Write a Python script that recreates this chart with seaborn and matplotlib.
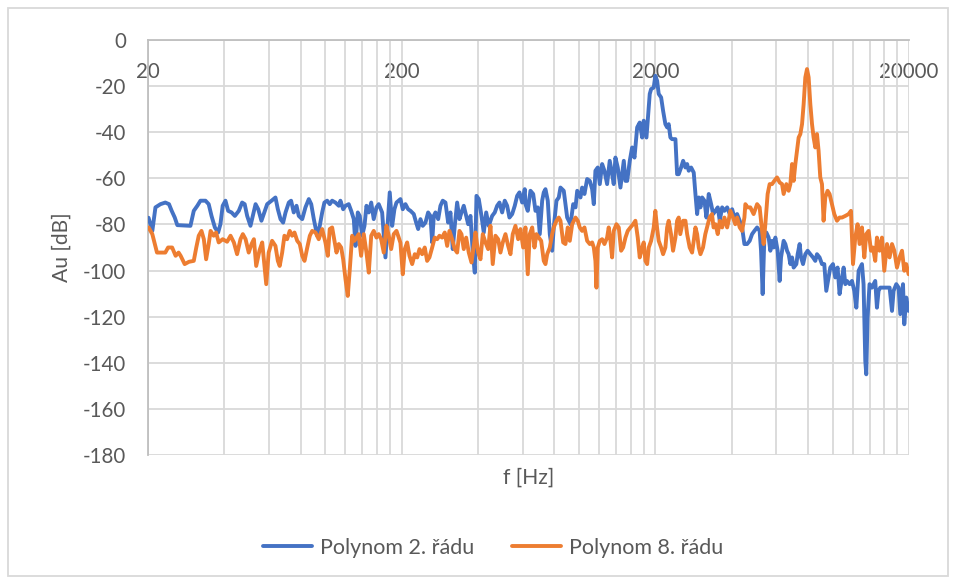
import matplotlib
matplotlib.use("Agg")
import matplotlib.pyplot as plt
from matplotlib.ticker import FixedLocator, NullFormatter
from matplotlib.patches import Rectangle
import seaborn as sns
import pandas as pd

# Frequency response, 2nd-order polynomial model
blue_freq = [
    20.1, 20.8, 21.4, 22.4, 23.4, 24.2, 24.8, 25.5, 26.1, 29.4, 30.3, 31.3, 32.2, 33.7,
    34.7, 35.6, 36.7, 37.8, 38.6, 39.4, 40.4, 41.4, 42.7, 44.0, 45.6, 47.0, 48.1, 49.2,
    50.7, 51.8, 53.1, 54.4, 56.0, 57.2, 59.0, 61.4, 63.6, 65.0, 66.6, 68.2, 69.7, 71.8,
    73.3, 75.1, 77.0, 78.6, 81.1, 83.5, 86.1, 88.0, 90.1, 92.9, 95.1, 97.2, 99.2, 101.7,
    104.1, 106.4, 109.6, 113.0, 114.7, 117.6, 120.1, 123.7, 126.5, 129.5, 131.5, 134.3,
    136.7, 139.7, 142.7, 145.3, 148.4, 151.7, 155.2, 159.1, 162.4, 167.5, 172.6, 176.3,
    179.5, 183.5, 187.3, 190.8, 197.8,
    202.0, 207.0, 212.1, 216.7, 223.2, 228.1, 232.3, 237.2, 242.2, 248.2, 254.3, 259.7,
    263.8, 267.7, 271.8, 278.6, 284.4, 290.4, 297.6, 305.0, 311.4, 318.0, 323.8, 330.9,
    338.0, 344.2, 351.4, 359.2, 365.8, 373.5, 381.4, 388.4, 394.4, 402.7, 412.7, 421.4,
    430.7, 440.9, 454.7, 465.6, 475.8, 485.9, 497.9, 509.8, 521.0, 532.0, 545.3, 558.3,
    570.6, 582.6, 597.1, 611.3,
    615.2, 628.2, 643.9, 659.9, 673.8, 688.0, 700.6, 716.0, 726.5, 737.8, 753.4, 767.2,
    784.0, 795.5, 815.3, 832.4, 845.4, 871.1, 898.4, 926.0, 949.0, 969.1, 984.1, 1014,
    1029, 1051, 1077, 1103, 1127, 1144, 1161, 1186, 1208, 1234, 1260, 1291, 1322, 1351,
    1371, 1392, 1422, 1457, 1480, 1502, 1525, 1549, 1586, 1620, 1655, 1696, 1736, 1775,
    1800, 1845, 1867, 1901, 1925, 1971, 2000, 2033, 2062, 2108, 2146, 2191, 2226, 2258,
    2293, 2329, 2400, 2437, 2473, 2527, 2574, 2628, 2669, 2708, 2768, 2834, 2878, 2923,
    2966, 3012, 3059, 3123, 3181, 3248, 3319, 3380, 3452, 3524, 3589, 3668, 3745, 3838,
    3929, 4016, 4100, 4202, 4302, 4396, 4489, 4600, 4710, 4813, 4915, 5037,
    5155, 5221, 5298, 5380, 5479, 5594, 5681, 5770, 5854, 5945, 6070, 6181, 6260, 6410,
    6510, 6611, 6708, 6812, 6918, 7019, 7193, 7279, 7412, 7507, 7644, 7804, 7969, 8166,
    8368, 8543, 8675, 8882, 9078, 9269, 9439, 9638, 9788, 10030, 10240, 10460, 10650,
    10890, 11050, 11220, 11390, 11670, 11920, 12170, 12400, 12660, 12850, 13050, 13240,
    13450, 13570, 13730, 13980, 14290, 14500, 14720, 14950, 15170, 15410, 15880, 16380,
    16770, 17140, 17390, 17820, 18200, 18480, 18940, 19160, 19510, 19930,
]
blue_db = [
    -77.1, -82.8, -72.6, -71.2, -70.5, -71.2, -74.1, -77.0, -80.3, -80.6, -74.1, -71.9, -69.7, -69.7,
    -71.2, -76.3, -81.3, -83.5, -79.9, -71.9, -69.7, -74.1, -74.8, -76.3, -74.1, -70.5, -71.2, -76.3,
    -80.6, -76.3, -71.2, -73.4, -78.4, -75.5, -71.2, -69.7, -68.3, -73.4, -77.7, -79.2, -74.8, -70.5,
    -69.7, -74.8, -71.9, -76.3, -77.7, -72.6, -69.0, -71.2, -77.7, -84.9, -80.6, -74.8, -70.5, -69.7,
    -71.2, -69.7, -70.5, -71.9, -69.7, -73.4, -71.9, -71.2, -74.1, -77.7, -89.3, -74.8,
    -76.3, -84.9, -80.6, -71.9, -74.8, -70.5, -77.7, -72.6, -71.2, -74.8, -94.3, -79.2,
    -66.1, -80.6, -73.4, -70.5, -69.0,
    -73.4, -71.2, -73.4, -74.1, -75.5, -79.2, -82.0, -77.7, -80.6, -79.2, -74.8, -76.3,
    -87.8, -76.3, -74.8, -77.7, -71.9, -69.7, -70.5, -79.2, -74.8, -90.7, -80.6, -70.5,
    -77.7, -74.8, -71.9, -76.3, -79.9, -76.3, -92.2, -100.9, -67.6, -69.0, -76.3, -83.5,
    -74.8, -80.6, -76.3, -74.8, -71.9, -70.5, -74.8, -69.7, -71.9, -77.0, -75.5, -71.9,
    -67.6, -66.1, -70.5, -64.7,
    -71.2, -74.1, -65.4, -66.8, -74.1, -72.6, -84.2, -69.7, -66.1, -64.7, -69.7, -84.2,
    -91.4, -81.3, -69.7, -68.3, -64.0, -65.4, -77.0, -79.9, -71.2, -72.6, -65.4, -68.3,
    -64.0, -66.8, -60.3, -61.1, -64.7, -71.2, -56.7, -55.3, -62.5, -53.8, -56.7, -62.5, -52.4, -58.2,
    -62.5, -51.0, -55.3, -64.0, -58.2, -52.4, -61.1, -61.1, -52.4, -46.6, -51.0, -37.9, -35.8, -42.3,
    -35.0, -42.3, -35.0, -23.4, -21.3, -20.6, -15.5, -17.7, -23.4, -24.9, -30.7, -36.5, -37.9, -36.5,
    -42.3, -43.0, -43.0, -58.2, -58.2, -55.3, -52.4, -55.3, -53.8, -56.7, -55.3, -57.5, -66.8, -75.5,
    -68.3, -72.6, -68.3, -69.7, -77.0, -66.8, -71.2, -75.5, -74.1, -72.6, -78.4, -72.6, -74.1, -72.6,
    -75.5, -73.4, -77.0, -75.5, -78.4, -81.3, -88.5, -88.5, -87.1, -84.2, -82.8, -81.3,
    -82.8, -91.4, -110.2, -85.7, -83.5, -85.7, -91.4, -87.1, -90.0, -85.7, -91.4, -104.5, -94.3, -87.1,
    -88.5, -91.4, -92.9, -97.2, -94.3, -98.7, -97.2, -92.9, -88.5, -94.3, -97.2, -92.9, -91.4, -92.9,
    -94.3, -95.8, -92.9, -94.3, -97.2, -97.2, -108.8, -103.0, -98.7, -97.2, -103.0, -98.7, -110.2,
    -103.0, -98.7, -105.9, -104.5, -105.9, -104.5, -108.8, -116.1, -100.1, -98.7, -97.2, -105.9,
    -139.2, -145.0, -120.4, -105.9, -107.4, -105.9, -104.5, -116.1, -108.8, -107.4, -107.4, -107.4,
    -107.4, -117.5, -108.8, -105.9, -107.4, -118.9, -105.9, -123.3, -111.7, -117.5,
]

# Frequency response, 8th-order polynomial model
orange_freq = [
    20.1, 20.8, 21.7, 23.4, 24.0, 24.9, 25.7, 26.4, 26.9, 27.9, 29.0, 30.3, 31.0, 31.7,
    32.5, 33.2, 33.9, 34.7, 35.3, 36.3, 37.1, 38.0, 39.4, 41.0, 42.3, 43.6, 44.9, 46.3,
    47.3, 48.5, 49.9, 51.2, 52.3, 53.4, 55.0, 56.4, 58.5, 59.8, 61.7, 63.6,
    65.0, 66.1, 67.6, 69.0, 70.7, 72.4, 74.0, 75.6, 77.5, 79.3, 81.1, 82.8, 84.9, 86.9,
    88.8, 91.5, 94.2, 97.2, 100.1, 102.3, 104.1, 106.4, 108.7, 110.7, 113.0, 115.5, 117.6,
    120.1, 122.6, 124.9, 127.6, 130.3, 132.7, 135.4, 138.4, 141.8, 145.3, 148.4, 151.7,
    155.2, 159.1, 162.4, 166.0, 170.0, 174.2, 177.9, 181.8, 186.1, 190.8, 194.8, 197.8,
    202.0, 205.7, 210.2, 214.7, 220.0, 225.3, 230.3, 235.1, 240.9, 246.6, 252.0, 257.3,
    263.8, 270.1, 276.1, 281.9, 288.8, 295.7, 302.3, 308.6, 316.3, 323.8, 330.9, 338.0,
    344.2, 351.4, 359.2, 367.8, 376.9, 384.9, 390.9, 400.5, 409.0, 417.6, 427.9, 438.5,
    447.7, 457.1, 468.5, 480.2, 490.3, 500.7, 513.1, 525.8, 536.9, 548.2, 561.8, 575.8, 587.9,
    602.6, 615.2, 628.2, 639.8, 654.0, 667.6, 679.9, 694.3, 709.5, 726.5, 737.8, 749.3,
    767.2, 784.0, 795.5, 815.3, 832.4, 845.4, 866.5, 884.6, 903.3, 920.0, 940.2, 969.1,
    989.4, 1007, 1029, 1051, 1077, 1103, 1127, 1144, 1161, 1172, 1186, 1208, 1234, 1260,
    1291, 1310, 1331, 1351, 1371, 1405, 1435, 1466, 1493, 1525, 1557, 1595, 1635, 1669,
    1705, 1736, 1775, 1800, 1828, 1857, 1884, 1925, 1971, 2000, 2031, 2062, 2108, 2146,
    2191, 2226, 2258, 2306, 2349, 2400, 2437, 2473, 2508, 2571, 2628, 2669, 2732, 2792,
    2834, 2878, 2923, 2966, 3012, 3083, 3148, 3197, 3272, 3345, 3393, 3452, 3524, 3589,
    3668, 3745, 3838, 3889, 3950, 4048, 4133, 4202, 4302, 4396, 4489, 4529, 4622, 4737,
    4881, 5037, 5155,
    5269, 5346, 5429, 5543, 5645, 5770, 5891, 6037, 6181, 6317, 6410, 6570, 6708, 6812,
    6918, 7019, 7129, 7239, 7345, 7459, 7575, 7686, 7804, 7925, 8042, 8166, 8293, 8414,
    8543, 8675, 8802, 8939, 9078, 9211, 9354, 9551, 9725, 9940, 10150, 10400, 10650,
    10890, 11220, 11560, 11810, 12030, 12280, 12540, 12770, 13050, 13330, 13570, 13860,
    14160, 14420, 14720, 14950, 15310, 15650, 15980, 16380, 16770, 17140, 17500, 17930,
    18360, 18770, 19160, 19510, 19930,
]
orange_db = [
    -81.3, -84.2, -92.2, -92.2, -90.0, -90.0, -93.6, -92.2, -93.6, -97.2, -96.2, -95.8, -90.0, -84.9,
    -82.8, -86.4, -95.1, -88.5, -82.8, -84.9, -83.5, -87.8, -86.4, -87.5, -84.9, -87.8, -92.9, -86.4,
    -84.2, -86.4, -92.2, -88.5, -86.4, -98.0, -91.4, -87.8, -105.9, -92.2, -87.1, -89.3,
    -95.8, -98.0, -92.2, -84.9, -86.4, -82.8, -84.9, -83.5, -87.1, -88.5, -93.6, -95.8, -90.0, -84.9,
    -82.8, -83.5, -86.4, -82.0, -87.8, -93.6, -82.0, -81.3, -87.1, -92.2, -88.5, -90.0, -95.1,
    -103.7, -111.0, -99.4, -84.9, -87.1, -85.7, -84.2, -93.6, -84.2, -92.2, -100.9, -84.9,
    -82.8, -85.7, -84.2, -86.4, -92.2, -80.6, -84.9, -90.7, -84.2, -82.8, -85.7, -88.0,
    -101.6, -90.7, -87.8, -93.6, -97.2, -92.9, -94.3, -90.7, -92.9, -90.0, -95.8, -94.3,
    -90.0, -85.7, -86.4, -84.9, -85.7, -83.5, -89.3, -82.8, -86.4, -90.7, -92.2, -82.8,
    -84.2, -90.7, -85.7, -92.2, -96.5, -89.3, -83.5, -92.2, -95.1, -84.2, -87.8, -90.7,
    -80.6, -97.2, -84.9, -86.4, -92.2, -87.8, -84.2, -89.3, -92.9, -84.2, -80.6, -86.4, -82.0,
    -90.0, -81.3, -101.6, -84.2, -81.3, -90.0, -84.2, -85.7, -87.1, -95.8, -97.2, -92.9,
    -90.0, -84.2, -81.3, -78.4, -77.0, -78.4, -87.8, -88.5, -81.3, -87.1, -79.9, -77.0,
    -78.4, -81.3, -82.8, -81.3, -87.1, -88.5, -87.8, -90.0, -95.8, -107.4, -90.0, -87.1, -86.4, -88.5,
    -85.7, -81.3, -87.1, -94.3, -82.8, -79.9, -81.3, -91.4, -90.0, -85.7, -82.8, -81.3, -79.9, -78.4,
    -85.7, -94.3, -90.0, -87.8, -95.8, -97.2, -90.0, -87.1, -81.3, -74.1, -81.3, -87.1, -90.0, -92.9,
    -90.0, -81.3, -78.4, -84.2, -91.4, -85.7, -78.4, -77.0, -84.2, -78.4, -78.4, -84.2, -90.0, -92.2,
    -87.1, -81.3, -84.2, -90.0, -92.9, -90.0, -84.2, -81.3, -77.0, -75.5, -81.3, -79.9, -84.2, -78.4,
    -81.3, -77.0, -81.3, -78.4, -74.1, -77.0, -79.9, -77.0, -81.3, -82.8, -77.0, -71.2, -72.6, -72.6,
    -75.5, -71.2, -72.6,
    -82.8, -88.5, -79.9, -66.8, -62.5, -62.5, -61.1, -59.6, -61.8, -62.5, -66.8, -62.5, -65.4, -62.5,
    -53.8, -61.1, -53.8, -48.0, -42.3, -40.8, -36.5, -27.8, -16.2, -12.6, -16.2, -27.8, -36.5, -42.3,
    -46.6, -40.8, -48.0, -59.6, -62.5, -78.4, -68.3, -65.4, -66.8, -71.2, -75.5, -78.4, -77.0,
    -77.0, -76.3, -75.5, -74.1, -97.2, -85.7, -79.9, -88.5, -81.3, -94.3, -84.2, -82.8,
    -91.4, -90.0, -95.8, -85.7, -91.4, -85.7, -100.1, -88.5, -94.3, -88.5, -91.4, -98.7,
    -94.3, -91.4, -100.1, -97.2, -101.6,
]

series_names = ["Polynom 2. řádu", "Polynom 8. řádu"]
series_colors = ["#4472C4", "#ED7D31"]
x_major = [20, 200, 2000, 20000]
x_major_labels = ["20", "200", "2000", "20000"]
y_ticks = list(range(-180, 1, 20))

df = pd.concat([
    pd.DataFrame({"f": blue_freq, "Au": blue_db, "serie": series_names[0]}),
    pd.DataFrame({"f": orange_freq, "Au": orange_db, "serie": series_names[1]}),
], ignore_index=True)

sns.set_style("white")
plt.rcParams["font.family"] = ["Lato", "DejaVu Sans"]

text_gray = "#595959"
grid_gray = "#D9D9D9"
axis_gray = "#BFBFBF"

fig = plt.figure(figsize=(9.57, 5.78), dpi=100)
ax = fig.add_axes([148 / 957, 123 / 578, 761 / 957, 415 / 578])

sns.lineplot(data=df, x="f", y="Au", hue="serie", palette=series_colors,
             hue_order=series_names, estimator=None, sort=False, ax=ax,
             linewidth=2.8, solid_joinstyle="round", solid_capstyle="round", zorder=3)

ax.set_xscale("log")
ax.set_xlim(20, 20000)
ax.set_ylim(-180, 0)

# minor vertical gridlines at multiples of the decade start (40, 60, ... 180, 400, ...)
minor = [20 * m * 10 ** d for d in range(3) for m in range(2, 10)]
ax.xaxis.set_major_locator(FixedLocator(x_major))
ax.xaxis.set_minor_locator(FixedLocator(minor))
ax.xaxis.set_minor_formatter(NullFormatter())
ax.set_xticklabels(x_major_labels)
ax.set_yticks(y_ticks)
ax.set_yticklabels([str(v) for v in y_ticks])

ax.grid(which="major", axis="both", color=grid_gray, linewidth=1.3, zorder=0)
ax.grid(which="minor", axis="x", color=grid_gray, linewidth=1.3, zorder=0)
ax.set_axisbelow(True)

for side in ["right", "bottom"]:
    ax.spines[side].set_visible(False)
ax.spines["left"].set_color(axis_gray)
ax.spines["left"].set_linewidth(1.3)
ax.spines["top"].set_color(axis_gray)
ax.spines["top"].set_linewidth(1.3)

# value axis crosses at 0 dB, so the frequency labels sit just under the top edge
ax.tick_params(axis="x", which="both", top=False, bottom=False, labeltop=True,
               labelbottom=False, length=0, pad=-30, labelsize=14.8, labelcolor=text_gray)
ax.tick_params(axis="y", which="both", length=0, pad=16, labelsize=14.8, labelcolor=text_gray)

ax.set_xlabel("")
ax.set_ylabel("")
fig.text(529 / 957, 1 - 478 / 578, "f [Hz]", ha="center", va="center",
         fontsize=15.2, color=text_gray)
fig.text(62 / 957, 1 - 247 / 578, "Au [dB]", ha="center", va="center",
         rotation=90, fontsize=15.2, color=text_gray)

handles, labels = ax.get_legend_handles_labels()
ax.get_legend().remove()
fig.legend(handles, labels, loc="center", bbox_to_anchor=(493 / 957, 1 - 548 / 578),
           ncol=2, frameon=False, fontsize=15.5, labelcolor=text_gray,
           handlelength=2.27, handletextpad=0.37, columnspacing=1.75)

fig.patches.append(Rectangle((8 / 957, 2 / 578), 940 / 957, 568 / 578,
                             transform=fig.transFigure, fill=False,
                             edgecolor=grid_gray, linewidth=1.3))

fig.savefig("out.png", dpi=100, facecolor="white")
